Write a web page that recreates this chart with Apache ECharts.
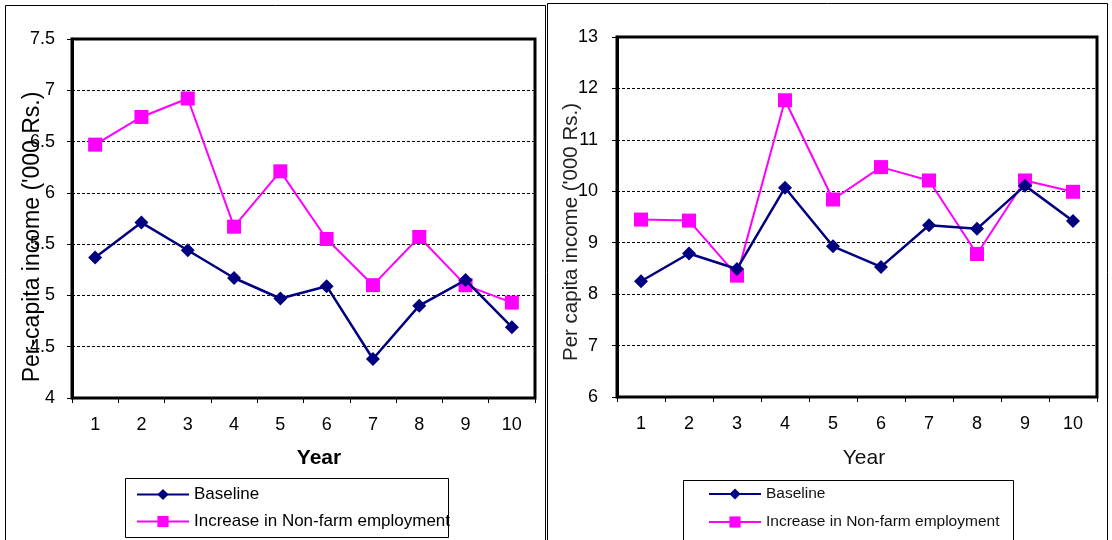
<!DOCTYPE html>
<html>
<head>
<meta charset="utf-8">
<script src="https://cdn.jsdelivr.net/npm/echarts@6/dist/echarts.min.js"></script>
<style>
  html, body { margin: 0; padding: 0; background: #fff; }
  #chart { width: 1112px; height: 540px; }
</style>
</head>
<body>
<div id="chart"></div>
<script>
// Year categories shared by both panels
const years = ['1', '2', '3', '4', '5', '6', '7', '8', '9', '10'];

// Left panel: per-capita income ('000 Rs.)
const leftBaseline = [5.37, 5.71, 5.44, 5.17, 4.97, 5.09, 4.38, 4.90, 5.15, 4.69];
const leftNonFarm  = [6.47, 6.74, 6.92, 5.67, 6.21, 5.55, 5.10, 5.57, 5.10, 4.93];

// Right panel: per capita income ('000 Rs.)
const rightBaseline = [8.25, 8.79, 8.49, 10.07, 8.93, 8.53, 9.34, 9.27, 10.11, 9.42];
const rightNonFarm  = [9.45, 9.43, 8.36, 11.77, 9.84, 10.47, 10.21, 8.78, 10.21, 9.99];

// Value axis ranges
const leftRange  = { min: 4, max: 7.5, interval: 0.5 };
const rightRange = { min: 6, max: 13, interval: 1 };

const seriesNames = ['Baseline', 'Increase in Non-farm employment'];
const NAVY = '#000080';
const MAGENTA = '#FF00FF';
const FONT = "'Liberation Sans', Arial, sans-serif";

const chart = echarts.init(document.getElementById('chart'), null, { renderer: 'canvas' });

function xAxisCfg(gridIndex, fontSize) {
  return {
    type: 'category',
    gridIndex: gridIndex,
    data: years,
    boundaryGap: true,
    axisLine: { lineStyle: { color: '#000', width: 2 } },
    axisTick: { show: true, length: 5, lineStyle: { color: '#000', width: 1 } },
    axisLabel: { color: '#000', fontFamily: FONT, fontSize: fontSize, margin: 18 },
    splitLine: { show: false }
  };
}

function yAxisCfg(gridIndex, range, fontSize, margin) {
  return {
    type: 'value',
    gridIndex: gridIndex,
    min: range.min,
    max: range.max,
    interval: range.interval,
    axisLine: { show: true, lineStyle: { color: '#000', width: 3 } },
    axisTick: { show: true, length: 5, lineStyle: { color: '#000', width: 1 } },
    axisLabel: { color: '#000', fontFamily: FONT, fontSize: fontSize, margin: margin },
    splitLine: { show: true, lineStyle: { color: '#000', width: 1, type: [3, 2] } }
  };
}

function lineSeries(name, data, axisIndex, isBaseline) {
  return {
    name: name,
    type: 'line',
    xAxisIndex: axisIndex,
    yAxisIndex: axisIndex,
    data: data,
    symbol: isBaseline ? 'diamond' : 'rect',
    symbolSize: 14,
    z: isBaseline ? 3 : 2,
    lineStyle: { color: isBaseline ? NAVY : MAGENTA, width: isBaseline ? 2.5 : 2 },
    itemStyle: { color: isBaseline ? NAVY : MAGENTA },
    emphasis: { disabled: true },
    animation: false
  };
}

// one legend entry per component, stacked inside each legend box
function legendItem(name, left, top, fontSize, color) {
  return {
    orient: 'horizontal',
    left: left,
    top: top,
    padding: 0,
    itemWidth: 52,
    itemHeight: 14,
    data: [name],
    selectedMode: false,
    textStyle: { color: color, fontFamily: FONT, fontSize: fontSize }
  };
}

const option = {
  backgroundColor: '#fff',
  animation: false,
  grid: [
    { left: 72, top: 39, width: 463, height: 359, show: true, borderColor: '#000', borderWidth: 3, backgroundColor: 'transparent' },
    { left: 617, top: 37, width: 480, height: 360, show: true, borderColor: '#000', borderWidth: 3, backgroundColor: 'transparent' }
  ],
  xAxis: [xAxisCfg(0, 18), xAxisCfg(1, 18)],
  yAxis: [yAxisCfg(0, leftRange, 18, 17), yAxisCfg(1, rightRange, 18, 19)],
  legend: [
    legendItem(seriesNames[0], 136, 486, 17, '#000'),
    legendItem(seriesNames[1], 136, 513, 17, '#000'),
    legendItem(seriesNames[0], 708, 486, 15.5, '#111'),
    legendItem(seriesNames[1], 708, 514, 15.5, '#111')
  ],
  series: [
    lineSeries(seriesNames[1], leftNonFarm, 0, false),
    lineSeries(seriesNames[0], leftBaseline, 0, true),
    lineSeries(seriesNames[1], rightNonFarm, 1, false),
    lineSeries(seriesNames[0], rightBaseline, 1, true)
  ],
  graphic: [
    // panel frames
    { type: 'rect', shape: { x: 5.5, y: 5.5, width: 540, height: 560 }, style: { fill: 'none', stroke: '#000', lineWidth: 1 }, z: 0, silent: true },
    { type: 'rect', shape: { x: 547.5, y: 3.5, width: 560, height: 560 }, style: { fill: 'none', stroke: '#000', lineWidth: 1 }, z: 0, silent: true },
    // legend boxes
    { type: 'rect', shape: { x: 125.5, y: 478.5, width: 323, height: 59 }, style: { fill: '#fff', stroke: '#000', lineWidth: 1 }, z: 0, silent: true },
    { type: 'rect', shape: { x: 683.5, y: 480.5, width: 330, height: 80 }, style: { fill: '#fff', stroke: '#000', lineWidth: 1 }, z: 0, silent: true },
    // axis titles
    { type: 'text', x: 33, y: 237, rotation: Math.PI / 2, z: 10, silent: true,
      style: { text: "Per-capita income ('000 Rs.)", x: 0, y: 0, align: 'center', verticalAlign: 'middle', fill: '#000', font: '23px ' + FONT } },
    { type: 'text', x: 571, y: 232, rotation: Math.PI / 2, z: 10, silent: true,
      style: { text: "Per capita income ('000 Rs.)", x: 0, y: 0, align: 'center', verticalAlign: 'middle', fill: '#222', font: '20.5px ' + FONT } },
    { type: 'text', x: 319, y: 458, z: 10, silent: true,
      style: { text: 'Year', x: 0, y: 0, align: 'center', verticalAlign: 'middle', fill: '#000', font: 'bold 21px ' + FONT } },
    { type: 'text', x: 864, y: 458, z: 10, silent: true,
      style: { text: 'Year', x: 0, y: 0, align: 'center', verticalAlign: 'middle', fill: '#111', font: '21px ' + FONT } }
  ]
};

chart.setOption(option);
</script>
</body>
</html>
